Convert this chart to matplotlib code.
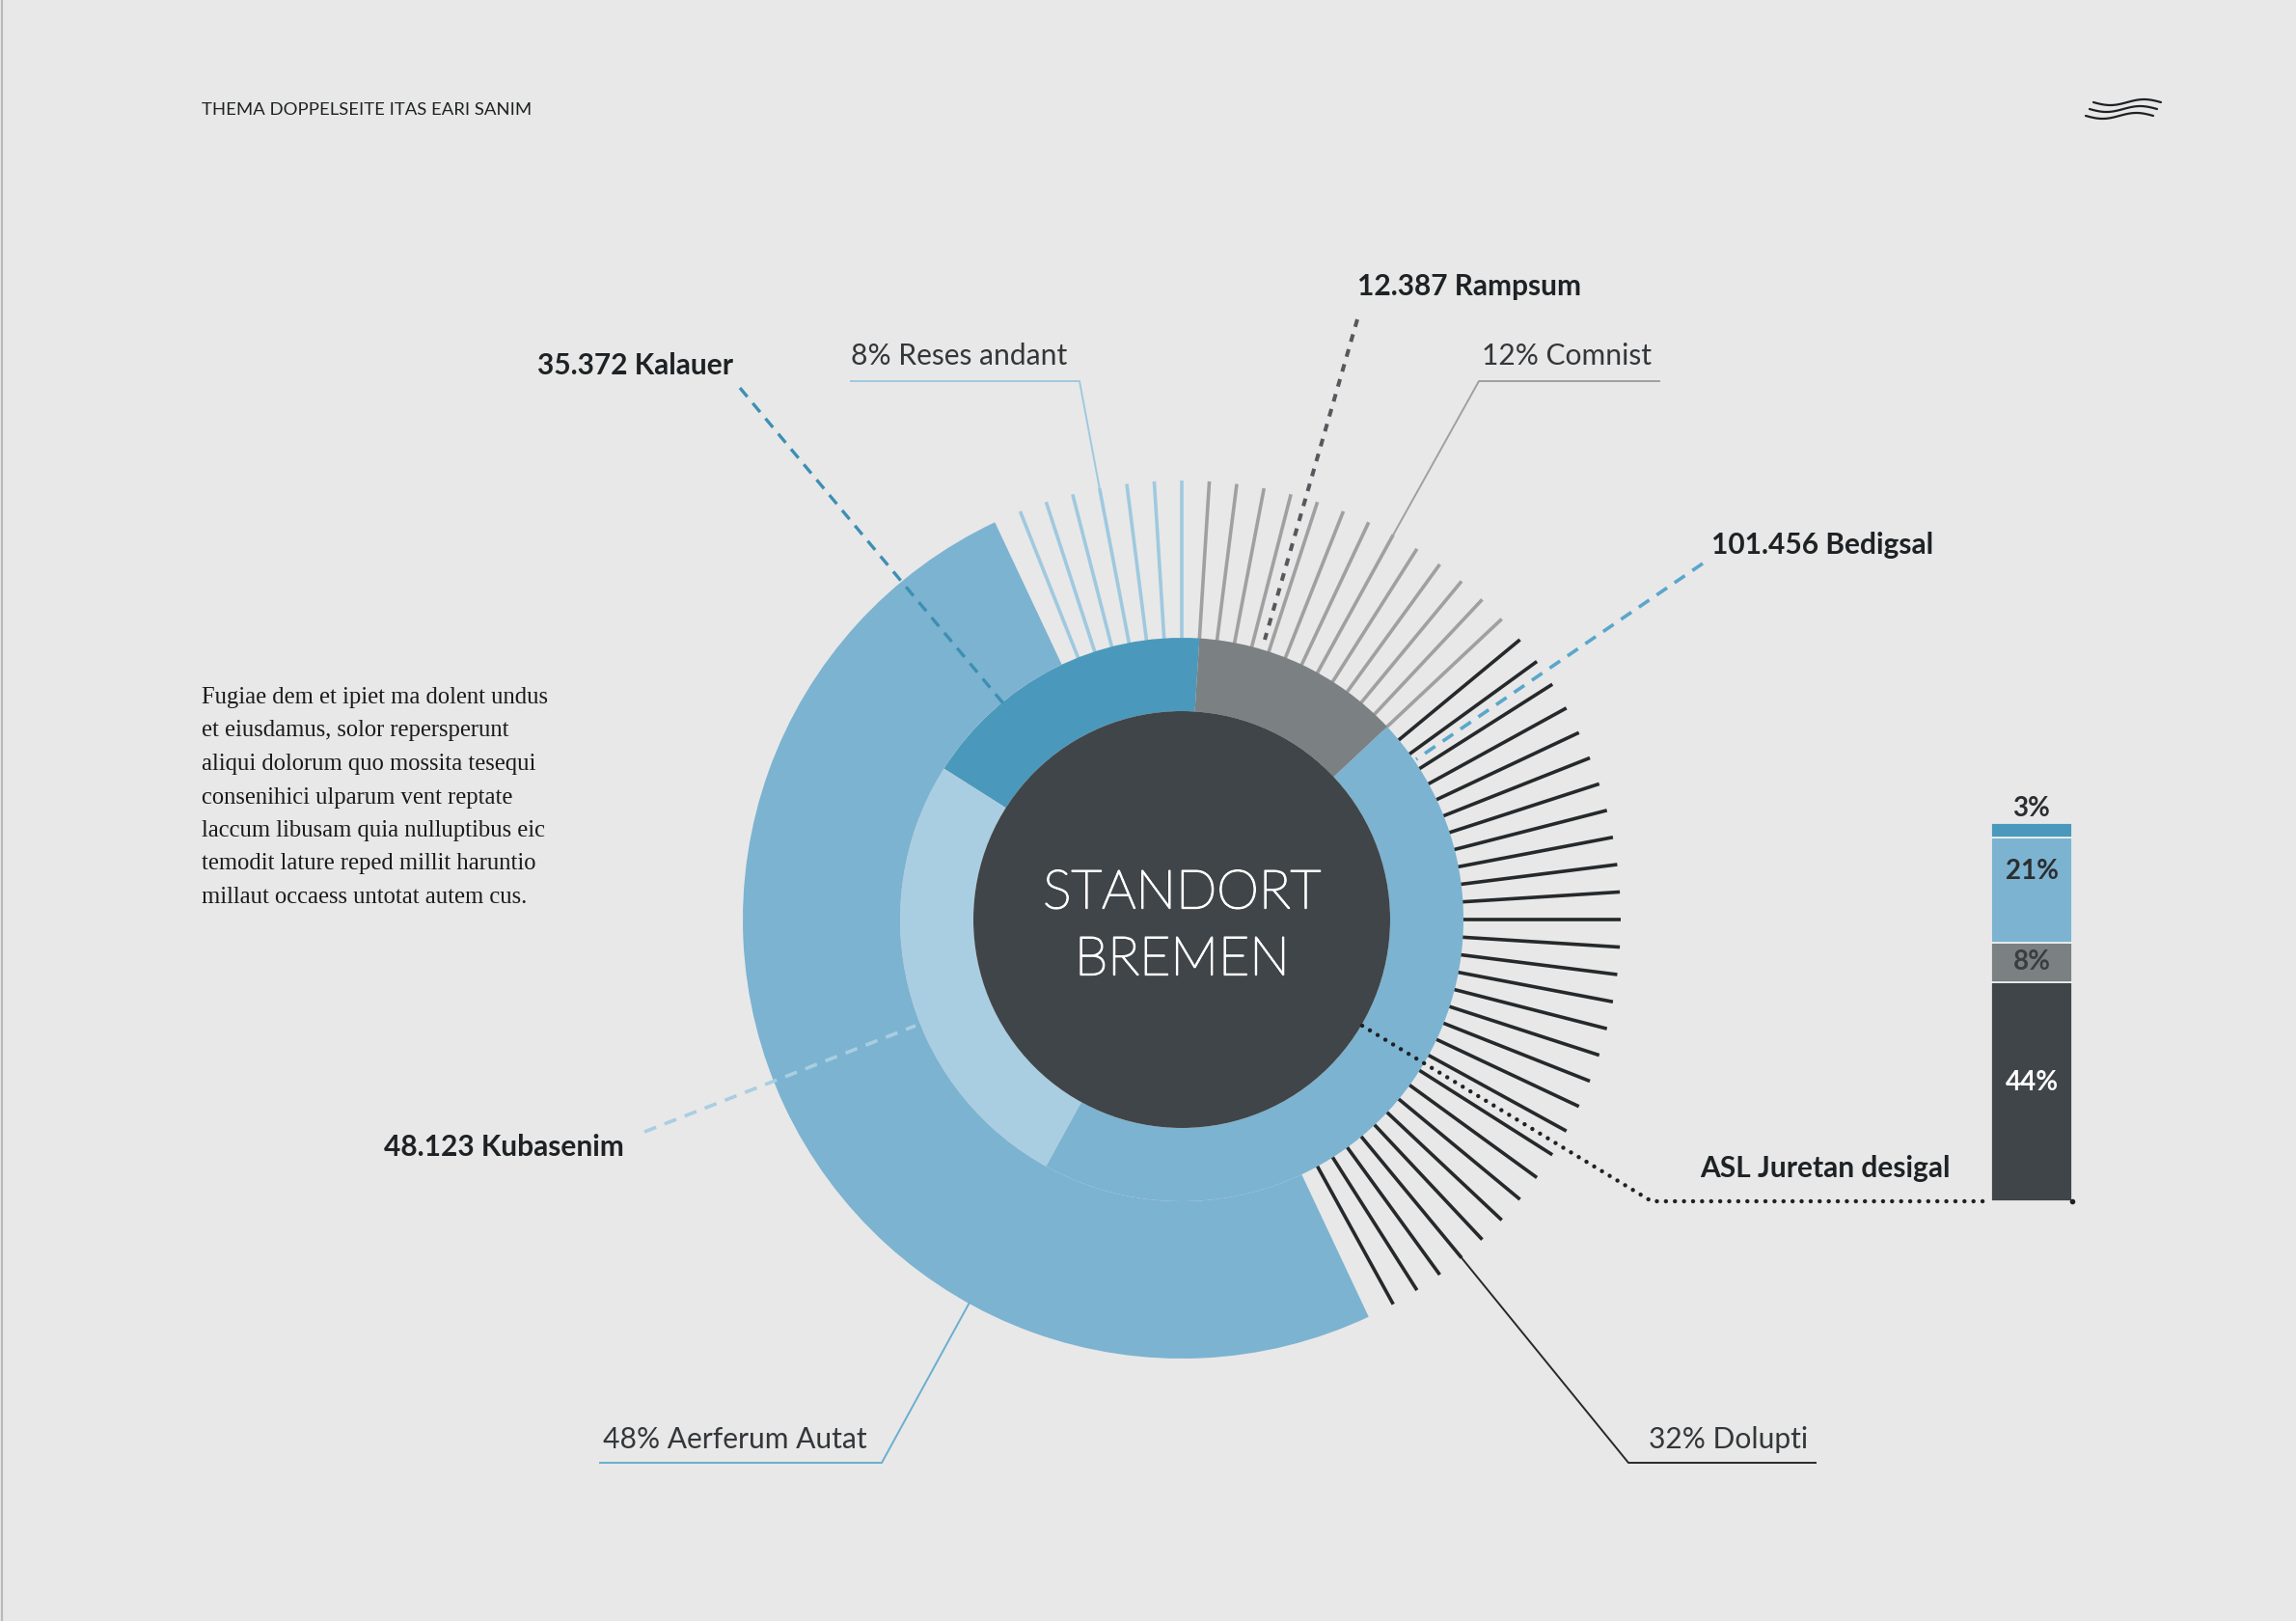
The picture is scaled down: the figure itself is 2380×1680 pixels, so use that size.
import numpy as np
import matplotlib.pyplot as plt
import matplotlib.patheffects as pe

plt.rcParams['font.family'] = ['Lato', 'DejaVu Sans']

W, H = 2380, 1680
BG = '#e8e8e8'

# inner ring, counterclockwise from the grey/teal joint (shares in % of the circle)
inner_names = ['Kalauer', 'Kubasenim', 'Bedigsal', 'Rampsum']
inner_values = ['35.372', '48.123', '101.456', '12.387']
inner_shares = [17, 26, 45, 12]
inner_colors = ['#4a99bc', '#a9cee1', '#7cb3d1', '#7b8083']

# outer ring: one solid arc plus rays (one ray = 1 % of the circle)
arc_name = 'Aerferum Autat'
arc_pct = 48
arc_share = 50
ray_names = ['Reses andant', 'Comnist', 'Dolupti']
ray_pcts = [8, 12, 32]
ray_counts = [7, 13, 29]
ray_colors = ['#9fc9df', '#a0a0a0', '#26292b']

center_name = 'ASL Juretan desigal'

# stacked bar on the right, bottom to top
bar_pcts = [44, 8, 21, 3]
bar_colors = ['#404549', '#7b8083', '#7cb3d1', '#4a99bc']
bar_text_colors = ['white', '#3b3e41', '#2b2e31', '#2b2e31']

body = ['Fugiae dem et ipiet ma dolent undus',
        'et eiusdamus, solor repersperunt',
        'aliqui dolorum quo mossita tesequi',
        'consenihici ulparum vent reptate',
        'laccum libusam quia nulluptibus eic',
        'temodit lature reped millit haruntio',
        'millaut occaess untotat autem cus.']

fig = plt.figure(figsize=(W / 100, H / 100), dpi=100, facecolor=BG)
ax = fig.add_axes([0, 0, 1, 1])
ax.set_facecolor(BG)


def Y(y):
    # layout positions are measured from the top of the page
    return H - y


cx, cy = 1225, Y(953)
r_core, r_inner, r_outer = 216, 292, 455
deg = 3.6  # one percent of the circle

# inner ring
wedges, _ = ax.pie(inner_shares, colors=inner_colors, startangle=24 * deg,
                   counterclock=True, radius=r_inner, center=(cx, cy),
                   wedgeprops=dict(width=r_inner - r_core, linewidth=0),
                   frame=True)
for w in wedges:
    w.set_zorder(3)

# outer solid arc, counterclockwise from its upper edge
first_ray = 31
arc_start = (first_ray + 1) * deg
outer, _ = ax.pie([arc_share, 100 - arc_share], colors=[inner_colors[2], 'none'],
                  startangle=arc_start, counterclock=True, radius=r_outer,
                  center=(cx, cy),
                  wedgeprops=dict(width=r_outer - r_inner, linewidth=0),
                  frame=True)
for w in outer:
    w.set_zorder(3)

# core
ax.add_patch(plt.Circle((cx, cy), r_core, color='#404549', zorder=4, lw=0))

# rays
k = 0
for n, col in zip(ray_counts, ray_colors):
    for j in range(n):
        a = np.radians((first_ray - k) * deg)
        ax.plot([cx + 286 * np.cos(a), cx + r_outer * np.cos(a)],
                [cy + 286 * np.sin(a), cy + r_outer * np.sin(a)],
                color=col, lw=2.6, solid_capstyle='butt', zorder=2)
        k += 1


def ray_tip(angle_deg):
    a = np.radians(angle_deg)
    return cx + r_outer * np.cos(a), cy + r_outer * np.sin(a)


bold = dict(fontsize=21.5, fontweight='bold', color='#1f2224', va='center', zorder=10)
light = dict(fontsize=21.6, fontweight='normal', color='#34373a', va='center', zorder=10)

# dashed leaders for the inner ring
ax.plot([767, 1040], [Y(402), Y(729)], color='#3d8fb3', lw=2.4,
        dashes=(3.6, 2.6), zorder=6)
ax.text(760, Y(379), inner_values[0] + ' ' + inner_names[0], ha='right', **bold)

ax.plot([668, 949], [Y(1173), Y(1063)], color='#a9cee1', lw=2.6,
        dashes=(3.6, 2.6), zorder=6)
ax.text(398, Y(1189), inner_values[1] + ' ' + inner_names[1], ha='left', **bold)

ax.plot([1765, 1468], [Y(584), Y(787)], color='#5aa7cb', lw=2.6,
        dashes=(3.6, 2.6), zorder=6)
ax.text(1774, Y(565), inner_values[2] + ' ' + inner_names[2], ha='left', **bold)

ax.plot([1407, 1311], [Y(331), Y(663)], color='#55595d', lw=2.9,
        dashes=(2.0, 2.0), zorder=6)
ax.text(1407, Y(297), inner_values[3] + ' ' + inner_names[3], ha='left', **bold)

# dotted leader from the core to the bar
ax.plot([1412, 1712, 2064], [Y(1063), Y(1245), Y(1245)], color='#1f2224',
        lw=3.2, linestyle=(0, (0.01, 2.1)), dash_capstyle='round', zorder=6)
ax.text(1762, Y(1211), center_name, ha='left', **bold)

# thin leaders with underlines for the outer ring
tx, ty = ray_tip((first_ray - 3) * deg)
ax.plot([882, 1119, tx], [Y(395), Y(395), ty], color='#9fc9df', lw=1.4, zorder=6)
ax.text(882, Y(369), f'{ray_pcts[0]}% {ray_names[0]}', ha='left', **light)

tx, ty = ray_tip((first_ray - 14) * deg)
ax.plot([1720, 1533, tx], [Y(395), Y(395), ty], color='#a0a0a0', lw=1.4, zorder=6)
ax.text(1536, Y(369), f'{ray_pcts[1]}% {ray_names[1]}', ha='left', **light)

tx, ty = ray_tip((first_ray - 45) * deg)
ax.plot([1882, 1688, tx], [Y(1516), Y(1516), ty], color='#26292b', lw=1.4, zorder=6)
ax.text(1709, Y(1492), f'{ray_pcts[2]}% {ray_names[2]}', ha='left', **light)

tx, ty = ray_tip(241.0)
ax.plot([622, 914, tx], [Y(1516), Y(1516), ty], color='#6aaed0', lw=1.4, zorder=6)
ax.text(625, Y(1492), f'{arc_pct}% {arc_name}', ha='left', **light)

# centre title
thin_white = [pe.withStroke(linewidth=1.3, foreground='white')]
ax.text(cx, Y(926), 'STANDORT', color='white', fontsize=40, fontweight='light',
        ha='center', va='center', zorder=8, path_effects=thin_white)
ax.text(cx, Y(995), 'BREMEN', color='white', fontsize=40, fontweight='light',
        ha='center', va='center', zorder=8, path_effects=thin_white)

# header and page furniture
ax.text(209, Y(114), 'THEMA DOPPELSEITE ITAS EARI SANIM', fontsize=13.3,
        color='#1f2224', ha='left', va='center')
xs = np.linspace(0, 70, 60)
for i in range(3):
    ax.plot(2170 - 4 * i + xs, Y(106 + 7 * i) - 3 * np.sin(xs / 70 * 2 * np.pi),
            color='#1f2224', lw=1.6, solid_capstyle='round')
ax.plot([1.5, 1.5], [0, H], color='#b8b8b8', lw=1.5)

for i, line in enumerate(body):
    ax.text(209, Y(723 + 34.5 * i), line, fontsize=17.7, color='#1b1b1b',
            family=['Liberation Serif', 'DejaVu Serif'], ha='left', va='center')

ax.set_xlim(0, W)
ax.set_ylim(0, H)
ax.set_aspect('auto')
ax.axis('off')

# stacked bar
bx = fig.add_axes([2064 / W, Y(1245) / H, 84 / W, 392 / H])
bx.set_facecolor('none')
label_pos = [0.54, 0.5, 0.68]
bottom = 0
for i, (p, col, tc) in enumerate(zip(bar_pcts, bar_colors, bar_text_colors)):
    bx.bar(0, p, bottom=bottom, width=1.0, color=col, edgecolor='#f2f2f2',
           linewidth=1.2)
    if i < len(label_pos):
        bx.text(0, bottom + p * label_pos[i], f'{p}%', color=tc, fontsize=20,
                fontweight='bold', ha='center', va='center')
    else:
        bx.text(0, bottom + p + 0.3, f'{p}%', color=tc, fontsize=20,
                fontweight='bold', ha='center', va='bottom', clip_on=False)
    bottom += p
bx.set_xlim(-0.5, 0.5)
bx.set_ylim(0, sum(bar_pcts))
bx.axis('off')
bx.plot([0.5], [0], 'o', color='#1f2224', ms=3, clip_on=False)

fig.savefig('out.png', dpi=100, facecolor=BG)
